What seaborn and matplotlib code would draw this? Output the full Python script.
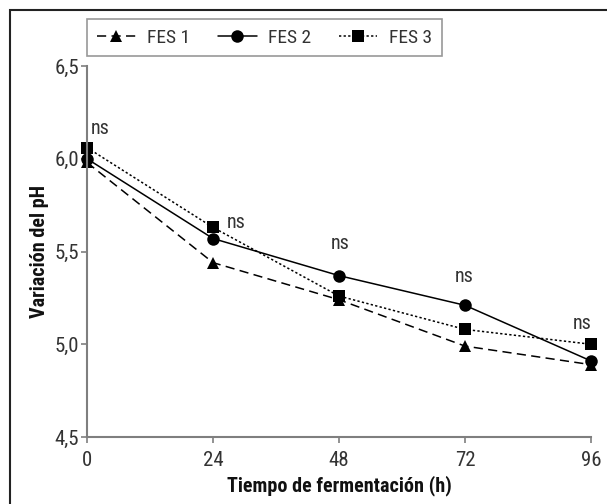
import matplotlib
matplotlib.use("Agg")
import matplotlib.pyplot as plt
import seaborn as sns
import pandas as pd
from matplotlib.patches import Rectangle
from matplotlib import font_manager as fm

# Data
horas = [0, 24, 48, 72, 96]
fes1 = [5.98, 5.44, 5.24, 4.99, 4.89]
fes2 = [6.00, 5.57, 5.37, 5.21, 4.91]
fes3 = [6.06, 5.63, 5.26, 5.08, 5.00]
series = ["FES 1", "FES 2", "FES 3"]
sig_labels = ["ns", "ns", "ns", "ns", "ns"]
y_ticks = [4.5, 5.0, 5.5, 6.0, 6.5]
y_ticklabels = ["4,5", "5,0", "5,5", "6,0", "6,5"]
x_ticks = [0, 24, 48, 72, 96]

df = pd.DataFrame({
    "t": horas * 3,
    "ph": fes1 + fes2 + fes3,
    "serie": [s for s in series for _ in horas],
})

sns.set_style("white")
available = set(f.name for f in fm.fontManager.ttflist)
candidates = ["Roboto Condensed", "Archivo Narrow", "Liberation Sans Narrow",
              "Asap Condensed", "Barlow Condensed"]
chosen = [c for c in candidates if c in available][:1]
plt.rcParams["font.family"] = chosen + ["DejaVu Sans"]

fig = plt.figure(figsize=(6.07, 5.04), dpi=100)
ax = fig.add_axes([87/607, 1-437/504, (591-87)/607, (437-66)/504])

sns.lineplot(data=df, x="t", y="ph", hue="serie", style="serie",
             palette={s: "black" for s in series},
             markers={"FES 1": "^", "FES 2": "o", "FES 3": "s"},
             dashes={"FES 1": (6, 3.5), "FES 2": "", "FES 3": (1.5, 1.5)},
             markersize=9, linewidth=1.1, markeredgewidth=0,
             ax=ax, legend=True, clip_on=False)

ax.set_xlim(0, 96)
ax.set_ylim(4.5, 6.5)
ax.set_xticks(x_ticks)
ax.set_xticklabels([str(v) for v in x_ticks])
ax.set_yticks(y_ticks)
ax.set_yticklabels(y_ticklabels)
ax.tick_params(axis="both", which="both", direction="out", length=4, width=1.2,
               color="#7f7f7f", labelsize=15, labelcolor="#333333",
               left=True, bottom=True)
ax.tick_params(axis="x", pad=6)
ax.tick_params(axis="y", pad=1.5)
for side in ["top", "right"]:
    ax.spines[side].set_visible(False)
for side in ["left", "bottom"]:
    ax.spines[side].set_color("#7f7f7f")
    ax.spines[side].set_linewidth(1.5)

ax.set_xlabel("Tiempo de fermentación (h)", fontsize=14.5, fontweight="bold",
              labelpad=4, color="#111111")
ax.set_ylabel("Variación del pH", fontsize=14.5, fontweight="bold",
              labelpad=4, color="#111111")

# significance annotations
offsets = [(13, 19), (23, 5), (1, 32), (-1, 29), (-9, 21)]
maxes = [max(a, b, c) for a, b, c in zip(fes1, fes2, fes3)]
for x, ymax, lab, off in zip(horas, maxes, sig_labels, offsets):
    ax.annotate(lab, (x, ymax), xytext=(off[0]*0.72, off[1]*0.72),
                textcoords="offset points", ha="center", va="center",
                fontsize=14.5, color="#333333", annotation_clip=False)

handles, labels = ax.get_legend_handles_labels()
ax.legend_.remove()
leg = fig.legend(handles, labels, loc="upper left",
                 bbox_to_anchor=(87/607, 1-19/504), ncol=3, frameon=True,
                 fancybox=False, edgecolor="#7f7f7f", fontsize=14,
                 handlelength=2.0, columnspacing=1.4, handletextpad=0.6,
                 borderpad=0.5, borderaxespad=0)
leg.get_frame().set_linewidth(1.2)
for t in leg.get_texts():
    t.set_color("#333333")

# outer frame
fig.patches.append(Rectangle((10/607, -0.05), 1.1, 1-10/504+0.05,
                             transform=fig.transFigure, fill=False,
                             edgecolor="#222222", linewidth=1.5))

fig.savefig("out.png", dpi=100)
